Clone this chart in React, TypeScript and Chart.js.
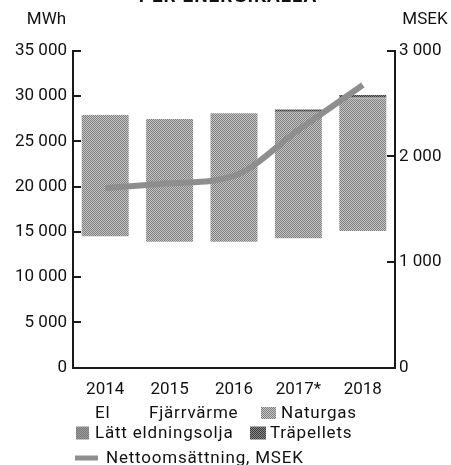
import React, { useEffect, useRef } from "react";
import { Chart, registerables } from "chart.js";

Chart.register(...registerables);

const years = ["2014", "2015", "2016", "2017*", "2018"];
const el = [8000, 7600, 7700, 7900, 8300];
const fjarrvarme = [6500, 6300, 6200, 6400, 6800];
const naturgas = [13400, 13550, 14200, 13850, 14650];
const lattEldningsolja = [0, 0, 0, 100, 100];
const trapellets = [0, 0, 0, 250, 250];
const nettoomsattning = [1700, 1745, 1815, 2250, 2675];

const mwhTicks = [0, 5000, 10000, 15000, 20000, 25000, 30000, 35000];
const msekTicks = [0, 1000, 2000, 3000];

const FONT = "Roboto, 'DejaVu Sans', sans-serif";

function fmt(v: number): string {
  const s = String(Math.round(v));
  return s.replace(/\B(?=(\d{3})+(?!\d))/g, " ");
}

function checker(c1: string, c2: string): CanvasPattern | string {
  const cv = document.createElement("canvas");
  cv.width = 2;
  cv.height = 2;
  const x = cv.getContext("2d");
  if (!x) return c1;
  x.fillStyle = c2;
  x.fillRect(0, 0, 2, 2);
  x.fillStyle = c1;
  x.fillRect(0, 0, 1, 1);
  x.fillRect(1, 1, 1, 1);
  return x.createPattern(cv, "repeat") || c1;
}

export default function App() {
  const ref = useRef<HTMLCanvasElement | null>(null);

  useEffect(() => {
    if (!ref.current) return;
    const naturgasFill = checker("#7e7e7e", "#c6c6c6");
    const lattFill = checker("#7a7a7a", "#9a9a9a");
    const traFill = checker("#3c3c3c", "#8a8a8a");
    const lineColor = "#8e8e8e";

    const legendItems = [
      { label: "El", fill: null as any, kind: "box", x: 76, y: 413, bw: 13, bh: 12, tx: 95 },
      { label: "Fjärrvärme", fill: null as any, kind: "box", x: 130, y: 413, bw: 13, bh: 12, tx: 149 },
      { label: "Naturgas", fill: naturgasFill, kind: "box", x: 261, y: 413, bw: 15, bh: 12, tx: 281 },
      { label: "Lätt eldningsolja", fill: lattFill, kind: "box", x: 76, y: 433, bw: 13, bh: 13, tx: 95 },
      { label: "Träpellets", fill: traFill, kind: "box", x: 250, y: 433, bw: 16, bh: 13, tx: 270 },
      { label: "Nettoomsättning, MSEK", fill: lineColor, kind: "line", x: 75, y: 458, bw: 23, bh: 5, tx: 106 },
    ];

    const decor = {
      id: "decor",
      afterDraw(chart: any) {
        const ctx = chart.ctx as any;
        ctx.save();
        ctx.fillStyle = "#111";
        ctx.textAlign = "center";
        ctx.textBaseline = "alphabetic";
        ctx.font = `bold 19px ${FONT}`;
        ctx.letterSpacing = "1px";
        ctx.fillText("PER ENERGIKÄLLA", 228, 2);
        ctx.letterSpacing = "0px";
        ctx.font = `17px ${FONT}`;
        ctx.textBaseline = "middle";
        ctx.fillText("MWh", 46.5, 19.5);
        ctx.fillText("MSEK", 425, 19.5);
        ctx.textAlign = "left";
        ctx.letterSpacing = "0.8px";
        for (const it of legendItems) {
          if (it.fill) {
            ctx.fillStyle = it.fill;
            ctx.fillRect(it.x, it.y - it.bh / 2, it.bw, it.bh);
          }
          ctx.fillStyle = "#111";
          ctx.font = `17px ${FONT}`;
          ctx.fillText(it.label, it.tx, it.y + 1);
        }
        ctx.restore();
      },
    };

    const chart = new Chart(ref.current, {
      type: "bar",
      data: {
        labels: years,
        datasets: [
          {
            type: "line",
            label: "Nettoomsättning, MSEK",
            data: nettoomsattning,
            yAxisID: "y1",
            borderColor: lineColor,
            backgroundColor: lineColor,
            borderWidth: 6,
            pointRadius: 0,
            cubicInterpolationMode: "monotone",
            order: 0,
          } as any,
          { label: "El", data: el, backgroundColor: "rgba(255,255,255,0)", yAxisID: "y", order: 1, stack: "s" },
          { label: "Fjärrvärme", data: fjarrvarme, backgroundColor: "rgba(255,255,255,0)", yAxisID: "y", order: 1, stack: "s" },
          { label: "Naturgas", data: naturgas, backgroundColor: naturgasFill as any, yAxisID: "y", order: 1, stack: "s" },
          { label: "Lätt eldningsolja", data: lattEldningsolja, backgroundColor: lattFill as any, yAxisID: "y", order: 1, stack: "s" },
          { label: "Träpellets", data: trapellets, backgroundColor: traFill as any, yAxisID: "y", order: 1, stack: "s" },
        ],
      },
      options: {
        animation: false,
        responsive: false,
        maintainAspectRatio: false,
        layout: { padding: { top: 50.7, left: 0, right: 0, bottom: 0 } },
        datasets: { bar: { barPercentage: 0.73, categoryPercentage: 1 } },
        plugins: {
          legend: { display: false },
          tooltip: { enabled: false },
          title: { display: false },
        },
        scales: {
          x: {
            stacked: true,
            grid: { display: false },
            border: { display: true, color: "#1a1a1a", width: 2 },
            ticks: { color: "#111", font: { family: FONT, size: 17 }, padding: 4 },
            afterFit(scale: any) {
              scale.height = 465 - 367.7;
            },
          },
          y: {
            position: "left",
            stacked: true,
            min: 0,
            max: 35000,
            afterBuildTicks(scale: any) {
              scale.ticks = mwhTicks.map((v) => ({ value: v }));
            },
            grid: { drawOnChartArea: false, drawTicks: true, tickLength: -8, color: "#1a1a1a", lineWidth: 2 },
            border: { display: true, color: "#1a1a1a", width: 2 },
            ticks: {
              color: "#111",
              font: { family: FONT, size: 17 },
              padding: 14,
              callback: (v: any) => fmt(Number(v)),
            },
            afterFit(scale: any) {
              scale.width = 73;
            },
          },
          y1: {
            position: "right",
            stacked: false,
            min: 0,
            max: 3000,
            afterBuildTicks(scale: any) {
              scale.ticks = msekTicks.map((v) => ({ value: v }));
            },
            grid: { drawOnChartArea: false, drawTicks: true, tickLength: -8, color: "#1a1a1a", lineWidth: 2 },
            border: { display: true, color: "#1a1a1a", width: 2 },
            ticks: {
              color: "#111",
              font: { family: FONT, size: 17 },
              padding: 12,
              callback: (v: any) => fmt(Number(v)),
            },
            afterFit(scale: any) {
              scale.width = 451 - 395;
            },
          },
        },
      },
      plugins: [decor],
    });
    return () => chart.destroy();
  }, []);

  return (
    <div style={{ position: "absolute", left: 0, top: 0, width: 451, height: 465, background: "#fff" }}>
      <canvas ref={ref} width={451} height={465} style={{ width: 451, height: 465, display: "block" }} />
    </div>
  );
}
